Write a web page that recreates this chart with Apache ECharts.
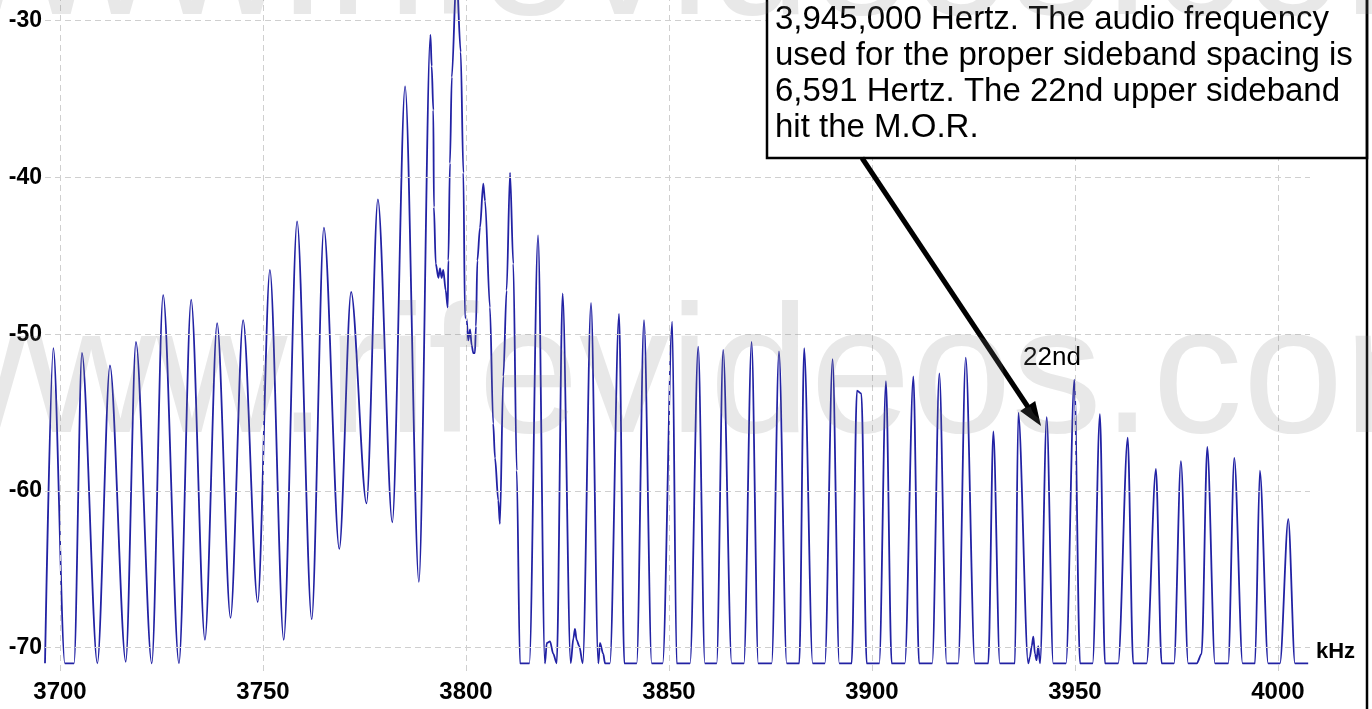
<!DOCTYPE html>
<html>
<head>
<meta charset="utf-8">
<title>AM sideband spectrum</title>
<script src="https://cdn.jsdelivr.net/npm/echarts@6/dist/echarts.min.js"></script>
<style>
  html, body { margin: 0; padding: 0; background: #ffffff; }
  #chart { width: 1372px; height: 709px; }
</style>
</head>
<body>
<div id="chart"></div>
<script>
// Swept spectrum trace, split into three stretches: frequency (kHz) and level (dB).
const lowerBandKHz = [
  3696.3, 3698.35, 3701.2, 3703.45, 3705.4, 3709.2, 3712.3, 3716.2, 3718.7, 3722.6,
  3725.4, 3729.3, 3732.3, 3735.7, 3738.7, 3742.0, 3745.1, 3748.7, 3751.7, 3755.1,
  3758.4, 3762.0, 3765.0, 3768.8, 3771.7, 3775.5, 3778.3, 3781.85, 3785.0, 3788.4,
  3791.25, 3791.55, 3791.95, 3792.1, 3792.55, 3793.2, 3793.6, 3794.0, 3794.4, 3795.0,
  3795.5
];
const lowerBandDb = [
  -71, -50.9, -71, -71, -51.2, -71.0, -52.0, -70.9, -50.5, -71.0,
  -47.5, -71.0, -47.8, -69.5, -49.3, -68.1, -49.1, -67.1, -45.9, -69.5,
  -42.8, -68.2, -43.2, -63.7, -47.3, -60.8, -41.4, -62.0, -34.2, -65.8,
  -30.9, -32.9, -35.7, -41.9, -45.5, -46.4, -45.8, -46.4, -45.9, -47.2,
  -48.3
];

const carrierKHz = [3795.65, 3796.05, 3796.5, 3797.65, 3798.7, 3799.35, 3799.75];
const carrierDb = [-45.3, -39.1, -33.6, -27.0, -32.0, -39.7, -48.9];

const upperBandKHz = [
  3800.15, 3800.55, 3801.0, 3801.4, 3801.8, 3802.2, 3802.45, 3802.8, 3803.45, 3804.25,
  3804.7, 3805.9, 3806.7, 3807.15, 3807.95, 3808.35, 3809.2, 3810.0, 3810.85, 3811.65,
  3812.5, 3813.3, 3815.6, 3817.75, 3819.45, 3819.9, 3820.7, 3821.5, 3822.35, 3823.8,
  3825.8, 3826.45, 3826.85, 3827.25, 3827.9, 3828.75, 3830.8, 3832.6, 3833.0, 3833.8,
  3834.25, 3835.45, 3837.7, 3839.0, 3842.05, 3843.85, 3845.75, 3848.45, 3850.8, 3851.9,
  3855.2, 3857.2, 3858.85, 3861.75, 3863.35, 3865.45, 3868.45, 3870.35, 3872.0, 3875.3,
  3877.1, 3879.0, 3882.1, 3883.3, 3885.4, 3888.4, 3890.3, 3891.95, 3895.0, 3896.3,
  3897.4, 3898.7, 3901.8, 3903.45, 3904.85, 3908.1, 3910.2, 3911.6, 3914.85, 3916.6,
  3918.4, 3921.25, 3923.1, 3925.35, 3928.65, 3929.9, 3931.5, 3935.2, 3936.05, 3938.5,
  3938.9, 3939.35, 3939.75, 3940.15, 3940.55, 3940.95, 3941.4, 3943.05, 3944.65, 3947.8,
  3949.85, 3951.25, 3954.35, 3956.15, 3957.4, 3960.65, 3963.0, 3964.35, 3967.65, 3969.95,
  3971.35, 3974.4, 3976.1, 3977.9, 3980.0, 3981.2, 3982.6, 3984.5, 3987.75, 3989.25,
  3991.3, 3994.35, 3995.55, 3997.6, 4000.5, 4002.55, 4004.2, 4007.45
];
const upperBandDb = [
  -49.0, -50.4, -49.7, -50.7, -51.2, -51.2, -49.5, -45.3, -43.2, -40.4,
  -41.5, -48.3, -55.7, -57.9, -60.6, -62.1, -52.7, -47.2, -39.7, -45.5,
  -58.7, -71, -71, -43.7, -71, -69.7, -69.6, -70.4, -71, -47.4,
  -71, -69.4, -68.8, -69.5, -69.9, -71, -48.0, -71, -69.7, -70.4,
  -71, -71, -48.7, -71, -71, -49.1, -71, -71, -49.2, -71,
  -71, -50.8, -71, -71, -51.0, -71, -71, -50.5, -71, -71,
  -51.1, -71, -71, -50.9, -71, -71, -51.6, -71, -71, -53.6,
  -53.8, -71, -71, -53.0, -71, -71, -52.7, -71, -71, -52.5,
  -71, -71, -51.5, -71, -71, -56.2, -71, -71, -55.0, -71,
  -70.6, -69.9, -69.3, -70.4, -70.8, -69.9, -71, -55.3, -71, -71,
  -52.9, -71, -71, -55.1, -71, -71, -56.6, -71, -71, -58.6,
  -71, -71, -58.1, -71, -71, -70.4, -57.2, -71, -71, -57.9,
  -71, -71, -58.7, -71, -71, -61.8, -71, -71
];

// Axis ticks and visible window
const freqTicks = [3700, 3750, 3800, 3850, 3900, 3950, 4000];
const levelTicks = [-70, -60, -50, -40, -30];
const freqRange = [3696.3, 4007.9];
const levelRange = [-71.49, -28.68];

// Annotation texts
const noteLines = [
  '3,945,000 Hertz. The audio frequency',
  'used for the proper sideband spacing is',
  '6,591 Hertz. The 22nd upper sideband',
  'hit the M.O.R.'
];
const markerText = '22nd';
const unitText = 'kHz';
const watermarkText = 'www.rifevideos.com';

const FONT = "'Liberation Sans', Arial, Helvetica, sans-serif";

const trace = [];
[[lowerBandKHz, lowerBandDb], [carrierKHz, carrierDb], [upperBandKHz, upperBandDb]]
  .forEach(([f, d]) => f.forEach((v, i) => trace.push([v, d[i]])));

const isTick = (list, v) => list.some(t => Math.abs(t - v) < 1e-6);

const chart = echarts.init(document.getElementById('chart'), null, { renderer: 'canvas' });

chart.setOption({
  animation: false,
  backgroundColor: '#ffffff',
  grid: { left: 45, right: 62, top: 0, bottom: 38, containLabel: false, outerBoundsMode: 'none' },
  xAxis: {
    type: 'value',
    min: freqRange[0],
    max: freqRange[1],
    axisLine: { show: false },
    axisTick: { show: false, customValues: freqTicks },
    splitLine: { show: false },
    axisLabel: {
      customValues: freqTicks,
      formatter: v => (isTick(freqTicks, v) ? String(Math.round(v)) : ''),
      margin: 9,
      color: '#000',
      fontFamily: FONT,
      fontWeight: 'bold',
      fontSize: 24
    }
  },
  yAxis: {
    type: 'value',
    min: levelRange[0],
    max: levelRange[1],
    axisLine: { show: false },
    axisTick: { show: false, customValues: levelTicks },
    splitLine: { show: false },
    axisLabel: {
      customValues: levelTicks,
      formatter: v => (isTick(levelTicks, v) ? String(Math.round(v)) : ''),
      margin: 3,
      color: '#000',
      fontFamily: FONT,
      fontWeight: 'bold',
      fontSize: 23
    }
  },
  series: [
    {
      // dashed reference grid
      type: 'line',
      data: [],
      z: 1,
      silent: true,
      markLine: {
        silent: true,
        animation: false,
        symbol: 'none',
        label: { show: false },
        emphasis: { disabled: true },
        lineStyle: { color: '#cfcfcf', type: [6, 4], width: 1 },
        data: [
          ...freqTicks.map(v => ({ xAxis: v })),
          ...levelTicks.map(v => ({ yAxis: v }))
        ]
      }
    },
    {
      type: 'line',
      data: trace,
      z: 3,
      silent: true,
      symbol: 'none',
      clip: true,
      smooth: 0.3,
      smoothMonotone: 'x',
      lineStyle: { color: '#2222a4', width: 1.8 }
    }
  ],
  graphic: [
    {
      type: 'text', z: 10, silent: true, x: 1316, y: 652,
      style: { text: unitText, fontFamily: FONT, fontWeight: 'bold', fontSize: 22, fill: '#000', verticalAlign: 'middle' }
    },
    {
      type: 'rect', z: 10, silent: true,
      shape: { x: 767, y: -10, width: 600, height: 168 },
      style: { fill: '#ffffff', stroke: '#000', lineWidth: 2.5 }
    },
    {
      type: 'line', z: 10, silent: true,
      shape: { x1: 1367, y1: 0, x2: 1367, y2: 709 },
      style: { stroke: '#000', lineWidth: 2.5 }
    },
    {
      type: 'text', z: 11, silent: true, x: 775, y: 1.5,
      style: {
        text: noteLines.join('\n'), fontFamily: FONT, fontSize: 33,
        lineHeight: 36, fill: '#000', verticalAlign: 'top', align: 'left'
      }
    },
    {
      type: 'line', z: 10, silent: true,
      shape: { x1: 862, y1: 158, x2: 1028, y2: 407 },
      style: { stroke: '#000', lineWidth: 5 }
    },
    {
      type: 'polygon', z: 10, silent: true,
      shape: { points: [[1041, 426], [1020.2, 411], [1035.2, 401]] },
      style: { fill: '#000' }
    },
    {
      type: 'text', z: 10, silent: true, x: 1023, y: 358,
      style: { text: markerText, fontFamily: FONT, fontSize: 26, fill: '#000', verticalAlign: 'middle' }
    },
    {
      type: 'text', z: 20, silent: true, x: -105, y: -36,
      style: { text: watermarkText, fontFamily: FONT, fontSize: 181, fill: 'rgba(130,130,130,0.18)', verticalAlign: 'middle' }
    },
    {
      type: 'text', z: 20, silent: true, x: -105, y: 382,
      style: { text: watermarkText, fontFamily: FONT, fontSize: 181, fill: 'rgba(130,130,130,0.18)', verticalAlign: 'middle' }
    }
  ]
});
</script>
</body>
</html>
